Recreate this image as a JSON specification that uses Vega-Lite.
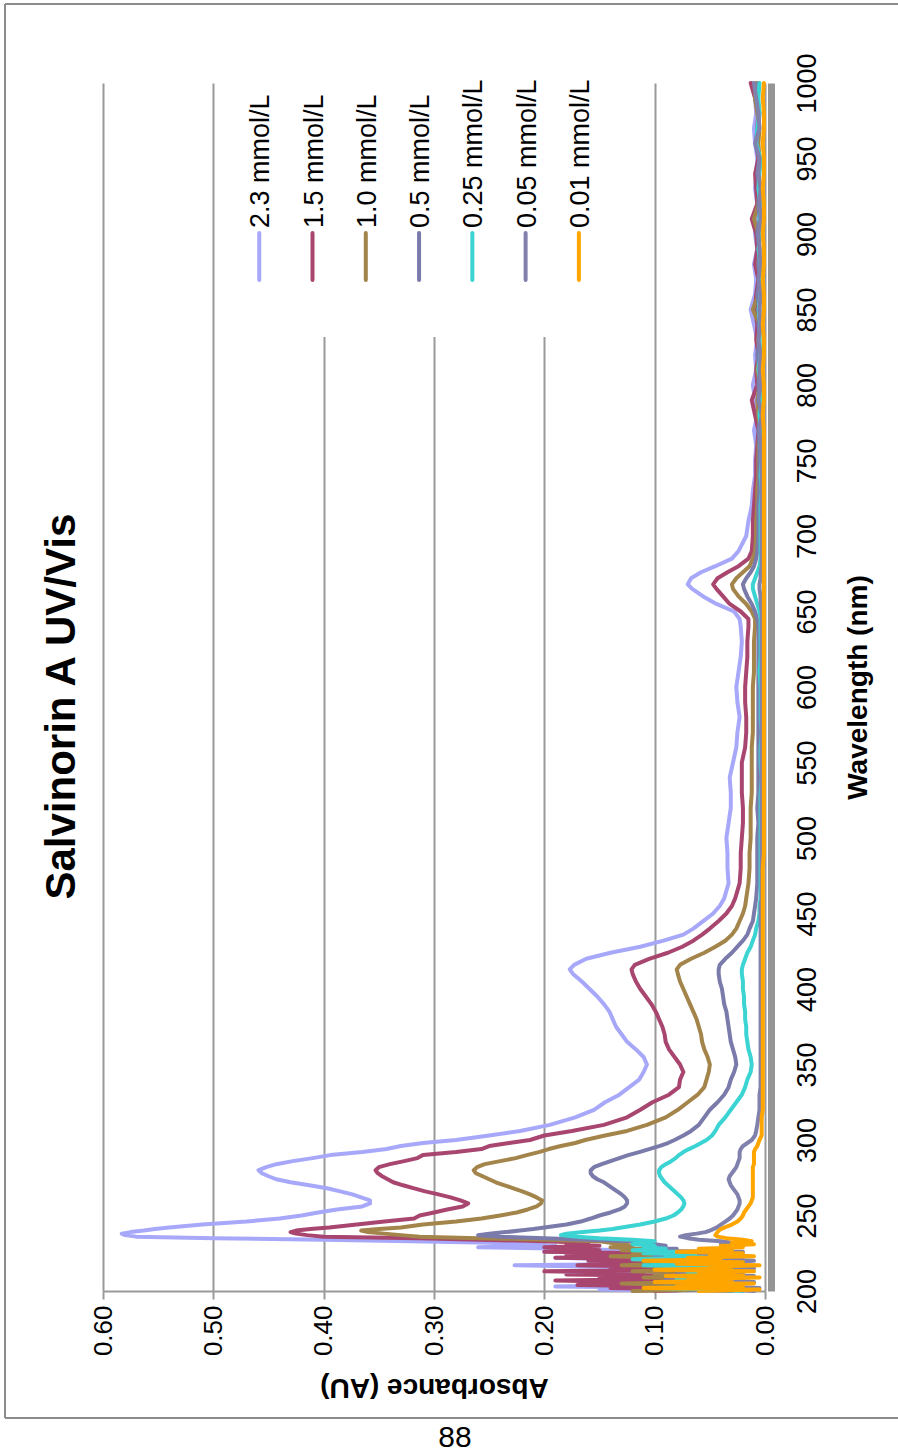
{
  "$schema": "https://vega.github.io/schema/vega-lite/v6.json",
  "autosize": {"type": "none"},
  "width": 662,
  "height": 1208,
  "padding": {"left": 103, "top": 83, "right": 133, "bottom": 163},
  "background": "white",
  "config": {"font": "Liberation Sans", "view": {"stroke": null}},
  "layer": [
    {
      "layer": [
        {
          "data": {"values": [{}]},
          "mark": {"type": "rect", "fill": "white"},
          "encoding": {
            "x": {"datum": 0.47, "scale": {"domain": [0, 0.6], "reverse": true, "nice": false, "zero": false}},
            "x2": {"datum": 0.16},
            "y": {"datum": 831.8, "scale": {"domain": [200, 1000], "nice": false, "zero": false}},
            "y2": {"datum": 1000}
          }
        },
        {
          "data": {"values": [
{"w":200,"s23":0.08,"s15":0.10,"s10":0.12,"s05":0.03,"s025":0.02,"s005":0.01,"s001":0.06},
{"w":201,"s23":0.15,"s15":0.06,"s10":0.04,"s05":0.07,"s025":0.05,"s005":0.03,"s001":0.005},
{"w":202,"s23":0.06,"s15":0.14,"s10":0.10,"s05":0.02,"s025":0.10,"s005":0.005,"s001":0.11},
{"w":203,"s23":0.19,"s15":0.08,"s10":0.02,"s05":0.06,"s025":0.03,"s005":0.04,"s001":0.02},
{"w":204,"s23":0.09,"s15":0.17,"s10":0.08,"s05":0.04,"s025":0.07,"s005":0.02,"s001":0.08},
{"w":205,"s23":0.12,"s15":0.05,"s10":0.13,"s05":0.08,"s025":0.02,"s005":0.05,"s001":0.01},
{"w":206,"s23":0.07,"s15":0.12,"s10":0.05,"s05":0.03,"s025":0.06,"s005":0.01,"s001":0.10},
{"w":207,"s23":0.16,"s15":0.19,"s10":0.09,"s05":0.06,"s025":0.03,"s005":0.03,"s001":0.03},
{"w":208,"s23":0.10,"s15":0.09,"s10":0.03,"s05":0.09,"s025":0.08,"s005":0.02,"s001":0.07},
{"w":209,"s23":0.13,"s15":0.15,"s10":0.11,"s05":0.04,"s025":0.04,"s005":0.05,"s001":0.005},
{"w":210,"s23":0.06,"s15":0.07,"s10":0.06,"s05":0.07,"s025":0.06,"s005":0.01,"s001":0.09},
{"w":211,"s23":0.14,"s15":0.18,"s10":0.10,"s05":0.03,"s025":0.02,"s005":0.04,"s001":0.02},
{"w":212,"s23":0.18,"s15":0.11,"s10":0.04,"s05":0.08,"s025":0.07,"s005":0.02,"s001":0.06},
{"w":213,"s23":0.09,"s15":0.20,"s10":0.12,"s05":0.05,"s025":0.04,"s005":0.06,"s001":0.01},
{"w":214,"s23":0.12,"s15":0.08,"s10":0.07,"s05":0.09,"s025":0.09,"s005":0.03,"s001":0.10},
{"w":215,"s23":0.07,"s15":0.14,"s10":0.10,"s05":0.04,"s025":0.03,"s005":0.01,"s001":0.03},
{"w":216,"s23":0.15,"s15":0.10,"s10":0.05,"s05":0.07,"s025":0.06,"s005":0.04,"s001":0.05},
{"w":217,"s23":0.227,"s15":0.17,"s10":0.13,"s05":0.10,"s025":0.11,"s005":0.02,"s001":0.005},
{"w":218,"s23":0.10,"s15":0.12,"s10":0.08,"s05":0.05,"s025":0.05,"s005":0.05,"s001":0.08},
{"w":219,"s23":0.16,"s15":0.07,"s10":0.11,"s05":0.08,"s025":0.08,"s005":0.03,"s001":0.02},
{"w":220,"s23":0.08,"s15":0.16,"s10":0.06,"s05":0.06,"s025":0.04,"s005":0.01,"s001":0.11},
{"w":221,"s23":0.13,"s15":0.10,"s10":0.12,"s05":0.09,"s025":0.12,"s005":0.04,"s001":0.04},
{"w":222,"s23":0.19,"s15":0.19,"s10":0.09,"s05":0.05,"s025":0.07,"s005":0.02,"s001":0.07},
{"w":223,"s23":0.11,"s15":0.13,"s10":0.14,"s05":0.10,"s025":0.09,"s005":0.05,"s001":0.01},
{"w":224,"s23":0.17,"s15":0.18,"s10":0.07,"s05":0.07,"s025":0.05,"s005":0.03,"s001":0.05},
{"w":225,"s23":0.09,"s15":0.11,"s10":0.12,"s05":0.09,"s025":0.11,"s005":0.06,"s001":0.02},
{"w":226,"s23":0.20,"s15":0.20,"s10":0.10,"s05":0.06,"s025":0.08,"s005":0.02,"s001":0.08},
{"w":227,"s23":0.13,"s15":0.15,"s10":0.13,"s05":0.10,"s025":0.12,"s005":0.05,"s001":0.03},
{"w":228,"s23":0.18,"s15":0.17,"s10":0.11,"s05":0.08,"s025":0.09,"s005":0.03,"s001":0.06},
{"w":229,"s23":0.26,"s15":0.20,"s10":0.14,"s05":0.11,"s025":0.11,"s005":0.04,"s001":0.02},
{"w":230,"s23":0.19,"s15":0.15,"s10":0.12,"s05":0.09,"s025":0.10,"s005":0.02,"s001":0.04},
{"w":231,"s23":0.22,"s15":0.18,"s10":0.13,"s05":0.10,"s025":0.12,"s005":0.04,"s001":0.01},
{"w":232,"s23":0.25,"s15":0.16,"s10":0.14,"s05":0.11,"s025":0.11,"s005":0.03,"s001":0.03},
{"w":233,"s23":0.32,"s15":0.20,"s10":0.15,"s05":0.12,"s025":0.10,"s005":0.04,"s001":0.012},
{"w":234,"s23":0.40,"s15":0.26,"s10":0.20,"s05":0.16,"s025":0.12,"s005":0.06,"s001":0.02},
{"w":235,"s23":0.50,"s15":0.313,"s10":0.26,"s05":0.20,"s025":0.15,"s005":0.07,"s001":0.035},
{"w":236,"s23":0.57,"s15":0.40,"s10":0.313,"s05":0.24,"s025":0.17,"s005":0.077,"s001":0.043},
{"w":237,"s23":0.58,"s15":0.415,"s10":0.33,"s05":0.26,"s025":0.185,"s005":0.072,"s001":0.045},
{"w":238,"s23":0.583,"s15":0.425,"s10":0.345,"s05":0.25,"s025":0.18,"s005":0.062,"s001":0.044},
{"w":239,"s23":0.575,"s15":0.43,"s10":0.36,"s05":0.235,"s025":0.165,"s005":0.054,"s001":0.043},
{"w":240,"s23":0.563,"s15":0.425,"s10":0.366,"s05":0.222,"s025":0.15,"s005":0.05,"s001":0.042},
{"w":241,"s23":0.553,"s15":0.412,"s10":0.35,"s05":0.21,"s025":0.138,"s005":0.047,"s001":0.04},
{"w":242,"s23":0.54,"s15":0.395,"s10":0.33,"s05":0.20,"s025":0.13,"s005":0.044,"s001":0.037},
{"w":244,"s23":0.51,"s15":0.37,"s10":0.31,"s05":0.18,"s025":0.113,"s005":0.04,"s001":0.03},
{"w":246,"s23":0.47,"s15":0.345,"s10":0.28,"s05":0.167,"s025":0.10,"s005":0.036,"s001":0.025},
{"w":248,"s23":0.44,"s15":0.318,"s10":0.257,"s05":0.158,"s025":0.09,"s005":0.032,"s001":0.022},
{"w":250,"s23":0.42,"s15":0.313,"s10":0.24,"s05":0.15,"s025":0.083,"s005":0.029,"s001":0.02},
{"w":252,"s23":0.405,"s15":0.30,"s10":0.225,"s05":0.14,"s025":0.079,"s005":0.027,"s001":0.019},
{"w":254,"s23":0.388,"s15":0.288,"s10":0.215,"s05":0.132,"s025":0.076,"s005":0.025,"s001":0.017},
{"w":256,"s23":0.365,"s15":0.274,"s10":0.207,"s05":0.127,"s025":0.074,"s005":0.024,"s001":0.015},
{"w":258,"s23":0.358,"s15":0.269,"s10":0.203,"s05":0.125,"s025":0.073,"s005":0.023,"s001":0.013},
{"w":260,"s23":0.358,"s15":0.276,"s10":0.202,"s05":0.125,"s025":0.074,"s005":0.023,"s001":0.012},
{"w":262,"s23":0.366,"s15":0.285,"s10":0.207,"s05":0.127,"s025":0.076,"s005":0.024,"s001":0.011},
{"w":264,"s23":0.374,"s15":0.296,"s10":0.213,"s05":0.13,"s025":0.079,"s005":0.025,"s001":0.011},
{"w":266,"s23":0.385,"s15":0.308,"s10":0.22,"s05":0.134,"s025":0.082,"s005":0.027,"s001":0.011},
{"w":268,"s23":0.397,"s15":0.318,"s10":0.228,"s05":0.138,"s025":0.085,"s005":0.029,"s001":0.011},
{"w":270,"s23":0.413,"s15":0.328,"s10":0.236,"s05":0.142,"s025":0.088,"s005":0.031,"s001":0.011},
{"w":272,"s23":0.43,"s15":0.337,"s10":0.244,"s05":0.146,"s025":0.091,"s005":0.032,"s001":0.011},
{"w":274,"s23":0.443,"s15":0.342,"s10":0.25,"s05":0.152,"s025":0.093,"s005":0.033,"s001":0.011},
{"w":276,"s23":0.45,"s15":0.347,"s10":0.256,"s05":0.156,"s025":0.095,"s005":0.032,"s001":0.011},
{"w":278,"s23":0.456,"s15":0.351,"s10":0.262,"s05":0.158,"s025":0.096,"s005":0.03,"s001":0.011},
{"w":280,"s23":0.459,"s15":0.353,"s10":0.264,"s05":0.158,"s025":0.096,"s005":0.028,"s001":0.011},
{"w":282,"s23":0.452,"s15":0.35,"s10":0.261,"s05":0.155,"s025":0.094,"s005":0.026,"s001":0.011},
{"w":284,"s23":0.443,"s15":0.34,"s10":0.254,"s05":0.148,"s025":0.09,"s005":0.025,"s001":0.01},
{"w":286,"s23":0.428,"s15":0.327,"s10":0.24,"s05":0.14,"s025":0.085,"s005":0.024,"s001":0.01},
{"w":288,"s23":0.41,"s15":0.315,"s10":0.226,"s05":0.132,"s025":0.081,"s005":0.023,"s001":0.01},
{"w":290,"s23":0.394,"s15":0.31,"s10":0.216,"s05":0.124,"s025":0.078,"s005":0.023,"s001":0.01},
{"w":292,"s23":0.365,"s15":0.28,"s10":0.205,"s05":0.114,"s025":0.074,"s005":0.023,"s001":0.01},
{"w":294,"s23":0.343,"s15":0.257,"s10":0.196,"s05":0.105,"s025":0.069,"s005":0.022,"s001":0.009},
{"w":296,"s23":0.33,"s15":0.25,"s10":0.185,"s05":0.096,"s025":0.063,"s005":0.02,"s001":0.007},
{"w":298,"s23":0.31,"s15":0.232,"s10":0.172,"s05":0.088,"s025":0.058,"s005":0.016,"s001":0.006},
{"w":300,"s23":0.28,"s15":0.213,"s10":0.163,"s05":0.082,"s025":0.053,"s005":0.012,"s001":0.005},
{"w":303,"s23":0.25,"s15":0.20,"s10":0.145,"s05":0.074,"s025":0.048,"s005":0.009,"s001":0.003},
{"w":306,"s23":0.222,"s15":0.175,"s10":0.125,"s05":0.067,"s025":0.045,"s005":0.008,"s001":0.003},
{"w":310,"s23":0.195,"s15":0.146,"s10":0.107,"s05":0.06,"s025":0.042,"s005":0.007,"s001":0.003},
{"w":315,"s23":0.172,"s15":0.125,"s10":0.09,"s05":0.055,"s025":0.036,"s005":0.006,"s001":0.003},
{"w":320,"s23":0.155,"s15":0.113,"s10":0.079,"s05":0.05,"s025":0.031,"s005":0.005,"s001":0.002},
{"w":325,"s23":0.145,"s15":0.102,"s10":0.07,"s05":0.043,"s025":0.026,"s005":0.005,"s001":0.002},
{"w":330,"s23":0.132,"s15":0.087,"s10":0.061,"s05":0.037,"s025":0.021,"s005":0.005,"s001":0.002},
{"w":335,"s23":0.123,"s15":0.078,"s10":0.055,"s05":0.033,"s025":0.018,"s005":0.004,"s001":0.002},
{"w":340,"s23":0.114,"s15":0.077,"s10":0.053,"s05":0.031,"s025":0.016,"s005":0.004,"s001":0.002},
{"w":345,"s23":0.11,"s15":0.074,"s10":0.051,"s05":0.028,"s025":0.013,"s005":0.004,"s001":0.002},
{"w":350,"s23":0.107,"s15":0.077,"s10":0.05,"s05":0.026,"s025":0.012,"s005":0.004,"s001":0.002},
{"w":355,"s23":0.11,"s15":0.082,"s10":0.052,"s05":0.027,"s025":0.013,"s005":0.004,"s001":0.002},
{"w":360,"s23":0.117,"s15":0.087,"s10":0.055,"s05":0.029,"s025":0.015,"s005":0.004,"s001":0.002},
{"w":365,"s23":0.125,"s15":0.09,"s10":0.057,"s05":0.031,"s025":0.016,"s005":0.004,"s001":0.002},
{"w":370,"s23":0.13,"s15":0.091,"s10":0.058,"s05":0.032,"s025":0.017,"s005":0.004,"s001":0.002},
{"w":375,"s23":0.135,"s15":0.093,"s10":0.06,"s05":0.033,"s025":0.017,"s005":0.004,"s001":0.002},
{"w":380,"s23":0.138,"s15":0.096,"s10":0.062,"s05":0.034,"s025":0.018,"s005":0.004,"s001":0.002},
{"w":385,"s23":0.141,"s15":0.099,"s10":0.065,"s05":0.035,"s025":0.018,"s005":0.004,"s001":0.002},
{"w":390,"s23":0.146,"s15":0.103,"s10":0.068,"s05":0.037,"s025":0.019,"s005":0.004,"s001":0.002},
{"w":395,"s23":0.152,"s15":0.108,"s10":0.071,"s05":0.038,"s025":0.019,"s005":0.004,"s001":0.002},
{"w":400,"s23":0.159,"s15":0.113,"s10":0.074,"s05":0.039,"s025":0.02,"s005":0.004,"s001":0.002},
{"w":405,"s23":0.166,"s15":0.117,"s10":0.077,"s05":0.041,"s025":0.02,"s005":0.004,"s001":0.002},
{"w":410,"s23":0.174,"s15":0.12,"s10":0.079,"s05":0.042,"s025":0.021,"s005":0.004,"s001":0.002},
{"w":413,"s23":0.177,"s15":0.121,"s10":0.08,"s05":0.042,"s025":0.021,"s005":0.004,"s001":0.002},
{"w":416,"s23":0.173,"s15":0.118,"s10":0.077,"s05":0.041,"s025":0.02,"s005":0.004,"s001":0.002},
{"w":420,"s23":0.162,"s15":0.105,"s10":0.067,"s05":0.036,"s025":0.018,"s005":0.004,"s001":0.002},
{"w":424,"s23":0.14,"s15":0.088,"s10":0.055,"s05":0.03,"s025":0.016,"s005":0.004,"s001":0.002},
{"w":428,"s23":0.113,"s15":0.075,"s10":0.045,"s05":0.025,"s025":0.013,"s005":0.004,"s001":0.002},
{"w":432,"s23":0.092,"s15":0.065,"s10":0.036,"s05":0.02,"s025":0.011,"s005":0.004,"s001":0.002},
{"w":436,"s23":0.074,"s15":0.057,"s10":0.03,"s05":0.016,"s025":0.009,"s005":0.004,"s001":0.002},
{"w":440,"s23":0.065,"s15":0.05,"s10":0.026,"s05":0.014,"s025":0.008,"s005":0.004,"s001":0.002},
{"w":445,"s23":0.056,"s15":0.042,"s10":0.023,"s05":0.011,"s025":0.006,"s005":0.004,"s001":0.002},
{"w":450,"s23":0.047,"s15":0.035,"s10":0.02,"s05":0.01,"s025":0.005,"s005":0.004,"s001":0.002},
{"w":455,"s23":0.041,"s15":0.03,"s10":0.018,"s05":0.009,"s025":0.005,"s005":0.004,"s001":0.002},
{"w":460,"s23":0.037,"s15":0.027,"s10":0.017,"s05":0.008,"s025":0.004,"s005":0.003,"s001":0.002},
{"w":470,"s23":0.033,"s15":0.023,"s10":0.015,"s05":0.007,"s025":0.004,"s005":0.003,"s001":0.002},
{"w":480,"s23":0.034,"s15":0.022,"s10":0.014,"s05":0.007,"s025":0.004,"s005":0.003,"s001":0.002},
{"w":490,"s23":0.034,"s15":0.022,"s10":0.014,"s05":0.007,"s025":0.004,"s005":0.003,"s001":0.001},
{"w":500,"s23":0.035,"s15":0.021,"s10":0.013,"s05":0.007,"s025":0.004,"s005":0.003,"s001":0.001},
{"w":510,"s23":0.033,"s15":0.02,"s10":0.013,"s05":0.006,"s025":0.004,"s005":0.003,"s001":0.001},
{"w":520,"s23":0.031,"s15":0.02,"s10":0.013,"s05":0.007,"s025":0.004,"s005":0.003,"s001":0.001},
{"w":530,"s23":0.031,"s15":0.021,"s10":0.012,"s05":0.006,"s025":0.004,"s005":0.003,"s001":0.001},
{"w":540,"s23":0.032,"s15":0.021,"s10":0.012,"s05":0.006,"s025":0.003,"s005":0.003,"s001":0.001},
{"w":550,"s23":0.029,"s15":0.021,"s10":0.012,"s05":0.006,"s025":0.004,"s005":0.003,"s001":0.001},
{"w":560,"s23":0.026,"s15":0.018,"s10":0.012,"s05":0.006,"s025":0.004,"s005":0.003,"s001":0.001},
{"w":570,"s23":0.025,"s15":0.017,"s10":0.011,"s05":0.006,"s025":0.003,"s005":0.003,"s001":0.001},
{"w":580,"s23":0.023,"s15":0.017,"s10":0.011,"s05":0.006,"s025":0.004,"s005":0.003,"s001":0.001},
{"w":590,"s23":0.025,"s15":0.018,"s10":0.011,"s05":0.006,"s025":0.004,"s005":0.003,"s001":0.001},
{"w":600,"s23":0.026,"s15":0.018,"s10":0.011,"s05":0.006,"s025":0.004,"s005":0.003,"s001":0.001},
{"w":610,"s23":0.024,"s15":0.017,"s10":0.01,"s05":0.006,"s025":0.005,"s005":0.003,"s001":0.001},
{"w":620,"s23":0.022,"s15":0.016,"s10":0.01,"s05":0.006,"s025":0.004,"s005":0.003,"s001":0.001},
{"w":630,"s23":0.021,"s15":0.016,"s10":0.01,"s05":0.006,"s025":0.004,"s005":0.003,"s001":0.001},
{"w":640,"s23":0.022,"s15":0.015,"s10":0.009,"s05":0.006,"s025":0.004,"s005":0.003,"s001":0.001},
{"w":645,"s23":0.023,"s15":0.015,"s10":0.009,"s05":0.007,"s025":0.004,"s005":0.003,"s001":0.001},
{"w":650,"s23":0.028,"s15":0.022,"s10":0.012,"s05":0.009,"s025":0.005,"s005":0.003,"s001":0.001},
{"w":655,"s23":0.044,"s15":0.032,"s10":0.017,"s05":0.012,"s025":0.007,"s005":0.004,"s001":0.001},
{"w":660,"s23":0.056,"s15":0.038,"s10":0.024,"s05":0.016,"s025":0.009,"s005":0.004,"s001":0.001},
{"w":665,"s23":0.066,"s15":0.044,"s10":0.029,"s05":0.019,"s025":0.011,"s005":0.005,"s001":0.001},
{"w":668,"s23":0.07,"s15":0.047,"s10":0.03,"s05":0.02,"s025":0.011,"s005":0.005,"s001":0.001},
{"w":672,"s23":0.067,"s15":0.043,"s10":0.026,"s05":0.017,"s025":0.009,"s005":0.004,"s001":0.001},
{"w":676,"s23":0.058,"s15":0.034,"s10":0.02,"s05":0.013,"s025":0.007,"s005":0.004,"s001":0.001},
{"w":680,"s23":0.045,"s15":0.024,"s10":0.014,"s05":0.01,"s025":0.005,"s005":0.003,"s001":0.001},
{"w":685,"s23":0.03,"s15":0.015,"s10":0.011,"s05":0.008,"s025":0.004,"s005":0.003,"s001":0.001},
{"w":690,"s23":0.024,"s15":0.012,"s10":0.009,"s05":0.007,"s025":0.004,"s005":0.003,"s001":0.001},
{"w":700,"s23":0.017,"s15":0.011,"s10":0.008,"s05":0.006,"s025":0.004,"s005":0.003,"s001":0.001},
{"w":710,"s23":0.015,"s15":0.011,"s10":0.008,"s05":0.006,"s025":0.004,"s005":0.003,"s001":0.001},
{"w":720,"s23":0.012,"s15":0.01,"s10":0.007,"s05":0.006,"s025":0.004,"s005":0.003,"s001":0.001},
{"w":730,"s23":0.011,"s15":0.009,"s10":0.007,"s05":0.005,"s025":0.003,"s005":0.003,"s001":0.001},
{"w":740,"s23":0.009,"s15":0.008,"s10":0.006,"s05":0.005,"s025":0.004,"s005":0.003,"s001":0.001},
{"w":750,"s23":0.009,"s15":0.008,"s10":0.006,"s05":0.005,"s025":0.003,"s005":0.003,"s001":0.001},
{"w":760,"s23":0.008,"s15":0.007,"s10":0.006,"s05":0.005,"s025":0.004,"s005":0.004,"s001":0.001},
{"w":770,"s23":0.01,"s15":0.006,"s10":0.005,"s05":0.006,"s025":0.003,"s005":0.005,"s001":0.001},
{"w":780,"s23":0.007,"s15":0.009,"s10":0.006,"s05":0.004,"s025":0.005,"s005":0.003,"s001":0.002},
{"w":790,"s23":0.009,"s15":0.012,"s10":0.007,"s05":0.005,"s025":0.004,"s005":0.006,"s001":0.001},
{"w":800,"s23":0.011,"s15":0.007,"s10":0.005,"s05":0.006,"s025":0.003,"s005":0.004,"s001":0.001},
{"w":810,"s23":0.008,"s15":0.008,"s10":0.007,"s05":0.005,"s025":0.006,"s005":0.005,"s001":0.002},
{"w":820,"s23":0.009,"s15":0.006,"s10":0.005,"s05":0.007,"s025":0.004,"s005":0.004,"s001":0.001},
{"w":830,"s23":0.007,"s15":0.008,"s10":0.006,"s05":0.005,"s025":0.005,"s005":0.006,"s001":0.001},
{"w":840,"s23":0.01,"s15":0.007,"s10":0.005,"s05":0.006,"s025":0.004,"s005":0.004,"s001":0.002},
{"w":850,"s23":0.013,"s15":0.009,"s10":0.011,"s05":0.005,"s025":0.006,"s005":0.005,"s001":0.001},
{"w":860,"s23":0.009,"s15":0.008,"s10":0.006,"s05":0.007,"s025":0.004,"s005":0.004,"s001":0.001},
{"w":870,"s23":0.008,"s15":0.006,"s10":0.005,"s05":0.005,"s025":0.005,"s005":0.006,"s001":0.002},
{"w":880,"s23":0.01,"s15":0.009,"s10":0.006,"s05":0.006,"s025":0.004,"s005":0.004,"s001":0.001},
{"w":890,"s23":0.007,"s15":0.007,"s10":0.005,"s05":0.005,"s025":0.006,"s005":0.005,"s001":0.001},
{"w":900,"s23":0.009,"s15":0.008,"s10":0.006,"s05":0.007,"s025":0.004,"s005":0.006,"s001":0.002},
{"w":910,"s23":0.008,"s15":0.012,"s10":0.01,"s05":0.005,"s025":0.005,"s005":0.004,"s001":0.001},
{"w":920,"s23":0.007,"s15":0.007,"s10":0.006,"s05":0.006,"s025":0.004,"s005":0.005,"s001":0.001},
{"w":930,"s23":0.009,"s15":0.008,"s10":0.005,"s05":0.005,"s025":0.006,"s005":0.004,"s001":0.002},
{"w":940,"s23":0.008,"s15":0.009,"s10":0.006,"s05":0.007,"s025":0.005,"s005":0.006,"s001":0.001},
{"w":950,"s23":0.007,"s15":0.006,"s10":0.005,"s05":0.005,"s025":0.004,"s005":0.005,"s001":0.001},
{"w":960,"s23":0.009,"s15":0.008,"s10":0.006,"s05":0.008,"s025":0.008,"s005":0.009,"s001":0.002},
{"w":970,"s23":0.01,"s15":0.007,"s10":0.005,"s05":0.006,"s025":0.007,"s005":0.005,"s001":0.001},
{"w":980,"s23":0.008,"s15":0.006,"s10":0.007,"s05":0.005,"s025":0.005,"s005":0.006,"s001":0.001},
{"w":990,"s23":0.009,"s15":0.009,"s10":0.009,"s05":0.007,"s025":0.006,"s005":0.008,"s001":0.002},
{"w":1000,"s23":0.011,"s15":0.013,"s10":0.008,"s05":0.006,"s025":0.005,"s005":0.01,"s001":0.001}
          ]},
          "transform": [{"fold": ["s23", "s15", "s10", "s05", "s025", "s005", "s001"], "as": ["series", "a"]}],
          "mark": {"type": "line", "strokeWidth": 4, "strokeJoin": "round", "strokeCap": "round"},
          "encoding": {
            "x": {
              "field": "a", "type": "quantitative",
              "scale": {"domain": [0, 0.6], "reverse": true, "nice": false, "zero": false},
              "axis": {
                "orient": "bottom", "title": "Absorbance (AU)",
                "values": [0, 0.1, 0.2, 0.3, 0.4, 0.5, 0.6], "format": ".2f",
                "labelAngle": -90, "labelAlign": "right", "labelBaseline": "middle",
                "labelFontSize": 26, "labelColor": "black", "labelPadding": 6,
                "labelFlush": false, "labelOverlap": false,
                "grid": true, "gridColor": "#9a9a9a", "gridWidth": 2,
                "domainColor": "#9a9a9a", "domainWidth": 2,
                "tickColor": "#9a9a9a", "tickWidth": 2, "tickSize": 8,
                "titleAngle": 180, "titleBaseline": "bottom", "titleFontSize": 28,
                "titleFontWeight": "bold", "titleColor": "black", "titlePadding": 17
              }
            },
            "y": {
              "field": "w", "type": "quantitative",
              "scale": {"domain": [200, 1000], "nice": false, "zero": false},
              "axis": {
                "orient": "right", "title": "Wavelength (nm)",
                "values": [200, 250, 300, 350, 400, 450, 500, 550, 600, 650, 700, 750, 800, 850, 900, 950, 1000],
                "format": "d",
                "labelAngle": -90, "labelAlign": "center", "labelBaseline": "top",
                "labelFontSize": 27, "labelColor": "black", "labelPadding": 23,
                "labelFlush": false, "labelOverlap": false,
                "grid": false, "ticks": false, "tickSize": 0,
                "domainColor": "#959595", "domainWidth": 7, "offset": 6,
                "titleAngle": -90, "titleBaseline": "top", "titleFontSize": 28,
                "titleFontWeight": "bold", "titleColor": "black", "titlePadding": 24
              }
            },
            "color": {
              "field": "series", "type": "nominal",
              "scale": {"domain": ["s23", "s15", "s10", "s05", "s025", "s005", "s001"],
                        "range": ["#A8A8FA", "#A8466F", "#A3844A", "#7A7BAA", "#3CD3D3", "#8081AD", "#FFA500"]},
              "legend": null
            },
            "order": {"field": "w", "type": "quantitative"}
          }
        },
        {
          "data": {"values": [{}]},
          "mark": {"type": "text", "text": "Salvinorin A UV/Vis", "angle": 270, "align": "center", "baseline": "middle", "fontSize": 42, "fontWeight": "bold", "color": "black"},
          "encoding": {
            "x": {"datum": 0.637, "scale": {"domain": [0, 0.6], "reverse": true, "nice": false, "zero": false}},
            "y": {"datum": 587, "scale": {"domain": [200, 1000], "nice": false, "zero": false}}
          }
        },
        {
          "data": {"values": [{}]},
          "mark": {"type": "text", "text": "88", "align": "center", "baseline": "middle", "fontSize": 30, "color": "black"},
          "encoding": {
            "x": {"datum": 0.281, "scale": {"domain": [0, 0.6], "reverse": true, "nice": false, "zero": false}},
            "y": {"datum": 102.6, "scale": {"domain": [200, 1000], "nice": false, "zero": false}}
          }
        },
        {
          "data": {"values": [{}]},
          "mark": {"type": "rule", "color": "#8c8c8c", "strokeWidth": 2},
          "encoding": {
            "x": {"datum": 0.6888, "scale": {"domain": [0, 0.6], "reverse": true, "nice": false, "zero": false}},
            "y": {"datum": 1052.3, "scale": {"domain": [200, 1000], "nice": false, "zero": false}},
            "y2": {"datum": 115.9}
          }
        },
        {
          "data": {"values": [{}]},
          "mark": {"type": "rule", "color": "#8c8c8c", "strokeWidth": 2},
          "encoding": {
            "x": {"datum": 0.6888, "scale": {"domain": [0, 0.6], "reverse": true, "nice": false, "zero": false}},
            "x2": {"datum": -0.13},
            "y": {"datum": 1052.3, "scale": {"domain": [200, 1000], "nice": false, "zero": false}}
          }
        },
        {
          "data": {"values": [{}]},
          "mark": {"type": "rule", "color": "#8c8c8c", "strokeWidth": 2},
          "encoding": {
            "x": {"datum": 0.6888, "scale": {"domain": [0, 0.6], "reverse": true, "nice": false, "zero": false}},
            "x2": {"datum": -0.13},
            "y": {"datum": 115.9, "scale": {"domain": [200, 1000], "nice": false, "zero": false}}
          }
        }
      ]
    },
    {
      "data": {"values": [
        {"key": "s23", "label": "2.3 mmol/L"},
        {"key": "s15", "label": "1.5 mmol/L"},
        {"key": "s10", "label": "1.0 mmol/L"},
        {"key": "s05", "label": "0.5 mmol/L"},
        {"key": "s025", "label": "0.25 mmol/L"},
        {"key": "s005", "label": "0.05 mmol/L"},
        {"key": "s001", "label": "0.01 mmol/L"}
      ]},
      "layer": [
        {
          "mark": {"type": "rule", "strokeWidth": 4, "strokeCap": "round"},
          "encoding": {
            "x": {"field": "key", "type": "nominal",
                  "scale": {"type": "point", "domain": ["d1", "d2", "s23", "s15", "s10", "s05", "s025", "s005", "s001", "d3", "d4", "d5"], "padding": 0.713, "align": 0.654},
                  "axis": null},
            "y": {"datum": 869.5, "scale": {"domain": [200, 1000], "nice": false, "zero": false}},
            "y2": {"datum": 900.7},
            "color": {
              "field": "key", "type": "nominal",
              "scale": {"domain": ["s23", "s15", "s10", "s05", "s025", "s005", "s001"],
                        "range": ["#A8A8FA", "#A8466F", "#A3844A", "#7A7BAA", "#3CD3D3", "#8081AD", "#FFA500"]},
              "legend": null
            }
          }
        },
        {
          "mark": {"type": "text", "angle": 270, "align": "left", "baseline": "middle", "fontSize": 27, "color": "black", "dy": 2},
          "encoding": {
            "x": {"field": "key", "type": "nominal",
                  "scale": {"type": "point", "domain": ["d1", "d2", "s23", "s15", "s10", "s05", "s025", "s005", "s001", "d3", "d4", "d5"], "padding": 0.713, "align": 0.654},
                  "axis": null},
            "y": {"datum": 904, "scale": {"domain": [200, 1000], "nice": false, "zero": false}},
            "text": {"field": "label"}
          }
        }
      ]
    }
  ],
  "resolve": {"scale": {"x": "independent"}}
}
